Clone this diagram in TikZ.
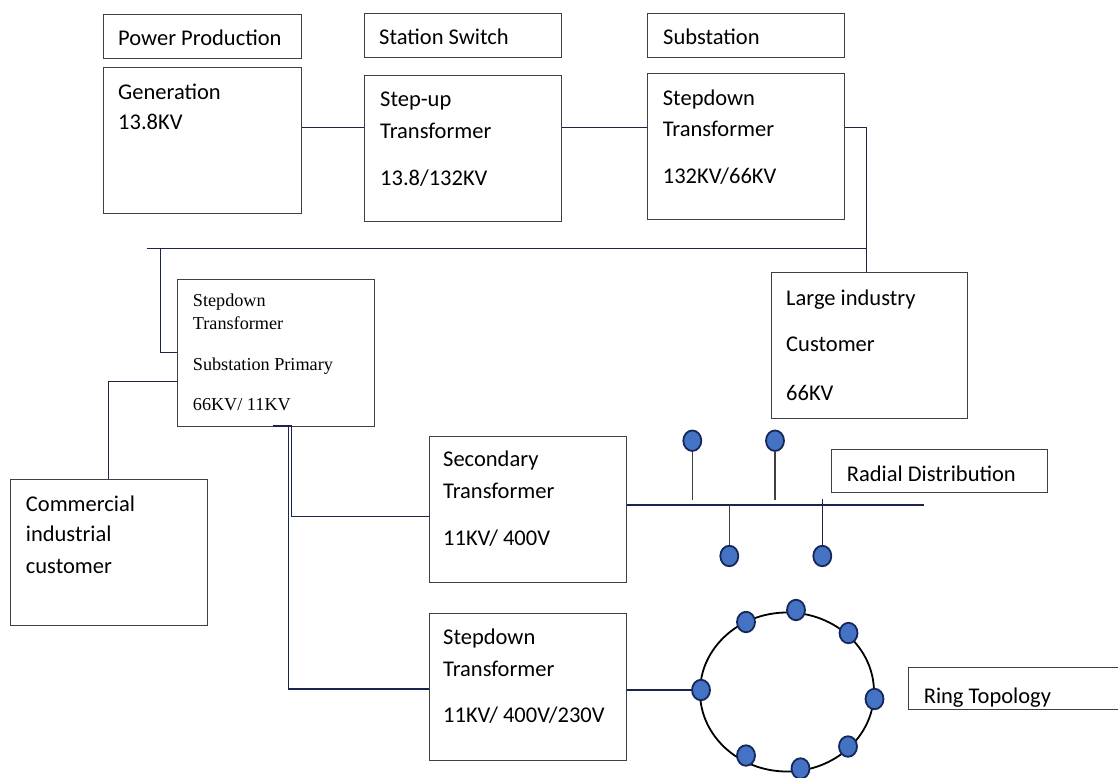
\documentclass[tikz,border=0pt]{standalone}
\usepackage{fontspec}
\setmainfont{Carlito}
\newfontfamily\serifface{Liberation Serif}
\usetikzlibrary{calc,shapes.geometric}
\definecolor{boxline}{RGB}{64,64,64}
\definecolor{wirecol}{RGB}{28,36,78}
\definecolor{dotfill}{RGB}{68,114,196}
\definecolor{dotline}{RGB}{22,40,88}

\begin{document}
\begin{tikzpicture}[x=1pt,y=-1pt,
  box/.style={draw=boxline, line width=1.1pt, anchor=north west, inner sep=0pt},
  lbl/.style={anchor=base west, inner sep=0pt, font=\fontsize{22.5}{27}\selectfont},
  slbl/.style={anchor=base west, inner sep=0pt, font=\serifface\fontsize{18.2}{22}\selectfont},
  wire/.style={draw=wirecol, line width=1.1pt},
  bead/.style={ellipse, draw=dotline, fill=dotfill, line width=1.8pt, minimum width=18pt, minimum height=20.5pt, inner sep=0pt},
  ringline/.style={ellipse, draw=black, line width=1.8pt, inner sep=0pt}]

\useasboundingbox (0,0) rectangle (1118,777);

% ---- boxes ----
\node[box, minimum width=198pt, minimum height=43.5pt] (pp) at (103,14) {};
\node[box, minimum width=198pt, minimum height=145.7pt] (gen) at (103,67) {};
\node[box, minimum width=197.2pt, minimum height=44pt] (ss) at (363.5,12.7) {};
\node[box, minimum width=197.2pt, minimum height=146pt] (su) at (363.5,75.3) {};
\node[box, minimum width=196.7pt, minimum height=44pt] (sub) at (647.3,12.7) {};
\node[box, minimum width=196.7pt, minimum height=146.3pt] (sda) at (647.3,72.7) {};
\node[box, minimum width=197pt, minimum height=146.7pt] (prim) at (177,279.3) {};
\node[box, minimum width=196.6pt, minimum height=145.7pt] (large) at (770.7,272) {};
\node[box, minimum width=196.7pt, minimum height=146.3pt] (comm) at (10,479) {};
\node[box, minimum width=197pt, minimum height=146.3pt] (sec) at (429,435.7) {};
\node[box, minimum width=197pt, minimum height=146.7pt] (sdb) at (429,613.3) {};
\node[box, minimum width=216pt, minimum height=43pt] (radial) at (831,449.3) {};
\node[box, minimum width=217pt, minimum height=42pt] (ringbox) at (908,667.3) {};

% ---- texts ----
\node[lbl] (tpp) at (118,45.5) {Power Production};
\node[lbl] (tgen1) at (118,99) {Generation};
\node[lbl] (tgen2) at (118,129) {13.8KV};
\node[lbl] (tss) at (379,44) {Station Switch};
\node[lbl] (tsu1) at (380,106.7) {Step-up};
\node[lbl] (tsu2) at (380,138.3) {Transformer};
\node[lbl] (tsu3) at (380,185) {13.8/132KV};
\node[lbl] (tsub) at (663,44) {Substation};
\node[lbl] (tsda1) at (662.7,105) {Stepdown};
\node[lbl] (tsda2) at (662.7,136.7) {Transformer};
\node[lbl] (tsda3) at (662.7,183.3) {132KV/66KV};
\node[slbl] (tpr1) at (192.7,306) {Stepdown};
\node[slbl] (tpr2) at (192.7,329.3) {Transformer};
\node[slbl] (tpr3) at (192.7,370) {Substation Primary};
\node[slbl] (tpr4) at (192.7,410) {66KV/ 11KV};
\node[lbl] (tlg1) at (786,305) {Large industry};
\node[lbl] (tlg2) at (786,351.7) {Customer};
\node[lbl] (tlg3) at (786,400) {66KV};
\node[lbl] (tcm1) at (25.7,511) {Commercial};
\node[lbl] (tcm2) at (25.7,541.7) {industrial};
\node[lbl] (tcm3) at (25.7,573.3) {customer};
\node[lbl] (tsec1) at (443,466.7) {Secondary};
\node[lbl] (tsec2) at (443,498.3) {Transformer};
\node[lbl] (tsec3) at (443,545) {11KV/ 400V};
\node[lbl] (tsdb1) at (443,644.3) {Stepdown};
\node[lbl] (tsdb2) at (443,676) {Transformer};
\node[lbl] (tsdb3) at (443,722.6) {11KV/ 400V/230V};
\node[lbl] (trad) at (846.7,481.7) {Radial Distribution};
\node[lbl] (tring) at (923.6,703.3) {Ring Topology};

% ---- helper coordinates for wire routes ----
\coordinate (hv) at (0,127.7);      % height of the generation line
\coordinate (busL) at (146.7,248.3);
\coordinate (busR) at (866.7,248.3);
\coordinate (tapA) at (160.7,248.3);
\coordinate (tapAend) at (160.7,352.3);
\coordinate (comTurn) at (108.7,381.7);
\coordinate (stubL) at (273.3,426);
\coordinate (stubR) at (291.5,426);
\coordinate (secTurn) at (291.5,516.7);
\coordinate (sdbTop) at (288.5,426);
\coordinate (sdbTurn) at (288.5,689);
\coordinate (radEnd) at (924,505);

% ---- transmission wires ----
\draw[wire] (gen.east |- hv) -- (su.west |- hv);
\draw[wire] (su.east |- hv) -- (sda.west |- hv);
\draw[wire] (sda.east |- hv) -- (busR |- hv) -- (busR) -- (large.north -| busR);
\draw[wire] (busL) -- (busR);
\draw[wire] (tapA) -- (tapAend) -- (prim.west |- tapAend);
\draw[wire] (prim.west |- comTurn) -- (comTurn) -- (comm.north -| comTurn);
\draw[wire, line width=1.8pt] (stubL) -- (stubR);
\draw[wire] (stubR) -- (secTurn) -- (sec.west |- secTurn);
\draw[wire] (sdbTop) -- (sdbTurn) -- (sdb.west |- sdbTurn);

% ---- radial distribution ----
\draw[wire] (sec.east |- radEnd) -- (radEnd);
\node[bead] (ra) at (692.3,440.7) {};
\node[bead] (rb) at (775,440.7) {};
\node[bead] (rc) at (729.3,556) {};
\node[bead] (rd) at (822.3,556) {};
\coordinate (raEnd) at (692.3,500);
\coordinate (rbEnd) at (775,500);
\coordinate (rcTop) at (729.3,505);
\coordinate (rdTop) at (822.3,499.3);
\draw[wire, draw=boxline] (ra.south) -- (raEnd);
\draw[wire, draw=boxline] (rb.south) -- (rbEnd);
\draw[wire, draw=boxline] (rcTop) -- (rc.north);
\draw[wire] (rdTop) -- (rd.north);

% ---- ring topology ----
\node[ringline, minimum width=174pt, minimum height=159pt] (ring) at (787,692) {};
\node[bead] (q1) at (701,690) {};
\node[bead] (q2) at (746,622) {};
\node[bead] (q3) at (796,610) {};
\node[bead] (q4) at (848.5,633) {};
\node[bead] (q5) at (874.5,699) {};
\node[bead] (q6) at (848,746.5) {};
\node[bead] (q7) at (800.5,768.5) {};
\node[bead] (q8) at (746,755.5) {};
\draw[wire] (sdb.east |- q1) -- (q1.west);
\end{tikzpicture}
\end{document}
